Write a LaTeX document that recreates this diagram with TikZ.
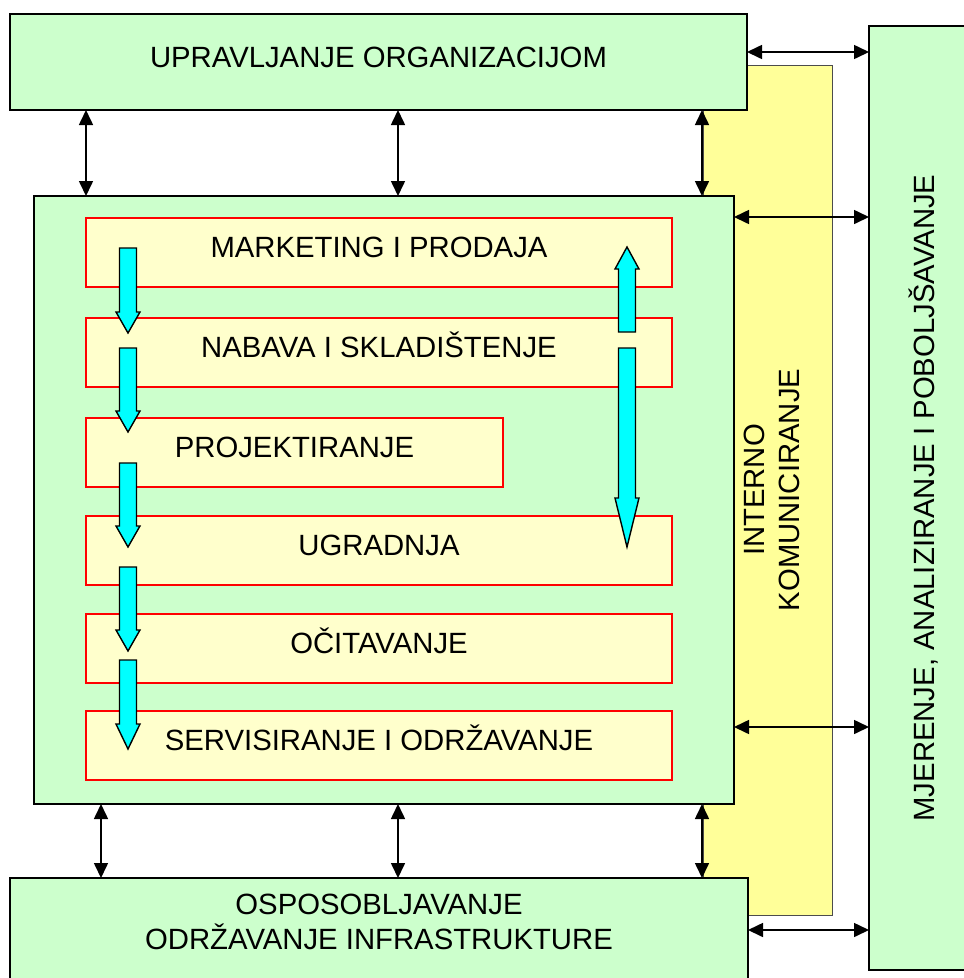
\documentclass[tikz,border=0pt]{standalone}
\usepackage{fontspec}
\setmainfont{Liberation Sans}
\usetikzlibrary{arrows.meta,positioning}
\definecolor{boxgreen}{HTML}{CCFFCC}
\definecolor{baryellow}{HTML}{FFFF99}
\definecolor{stageyellow}{HTML}{FFFFCC}
\definecolor{flowcyan}{HTML}{00FFFF}

\begin{document}
\begin{tikzpicture}[x=1pt,y=-1pt,
  every node/.style={font=\fontsize{29.3}{35}\selectfont, inner sep=0pt, outer sep=0pt},
  greenbox/.style={draw=black, line width=1.3pt, fill=boxgreen, anchor=north west},
  capline/.style={text height=21pt, text depth=11pt},
  stagebox/.style={draw=red, line width=1.8pt, fill=stageyellow, anchor=north west, minimum height=69pt, capline},
  link/.style={line width=1.6pt, {Triangle[length=15pt,width=14pt]}-{Triangle[length=15pt,width=14pt]}},
  flow/.style={draw=black, line width=1.4pt, fill=flowcyan}]
\useasboundingbox (0,0) rectangle (964,978);

% interno komuniciranje (behind the boxes)
\node[draw=black!70, line width=1pt, fill=baryellow, anchor=north west, minimum width=129pt, minimum height=850pt] (bar) at (703,65) {};

% main boxes
\node[greenbox, capline, minimum width=737pt, minimum height=96pt] (org) at (10,14) {UPRAVLJANJE ORGANIZACIJOM};
\node[greenbox, minimum width=700pt, minimum height=608pt] (proc) at (34,196) {};
\node[greenbox, minimum width=738pt, minimum height=107pt] (infra) at (10,878) {};
\node[align=center] (infratext) at (379,922) {OSPOSOBLJAVANJE\\ODRŽAVANJE INFRASTRUKTURE};
\node[greenbox, minimum width=122pt, minimum height=944pt] (mjer) at (869,26) {};
\node[rotate=90, text height=21pt, text depth=0pt] (mjertext) at (924,498) {MJERENJE, ANALIZIRANJE I POBOLJŠAVANJE};
\node[rotate=90, align=center] (bartext) at (772,490) {INTERNO\\KOMUNICIRANJE};

% process stages
\node[stagebox, minimum width=586pt] (mkt) at (86,218) {MARKETING I PRODAJA};
\node[stagebox, minimum width=586pt] (nab) at (86,318) {NABAVA I SKLADIŠTENJE};
\node[stagebox, minimum width=417pt] (proj) at (86,418) {PROJEKTIRANJE};
\node[stagebox, minimum width=586pt] (ugr) at (86,516) {UGRADNJA};
\node[stagebox, minimum width=586pt] (oci) at (86,614) {OČITAVANJE};
\node[stagebox, minimum width=586pt] (serv) at (86,711) {SERVISIRANJE I ODRŽAVANJE};

% links between the boxes
\foreach \x in {86,398,702}
  \draw[link] (org.south -| \x,0) -- (proc.north -| \x,0);
\foreach \x in {101,398,702}
  \draw[link] (proc.south -| \x,0) -- (infra.north -| \x,0);

\draw[link] ([yshift=10pt]org.east) -- ([yshift=10pt]org.east -| mjer.west);
\draw[link] ([yshift=-21pt]proc.north east) -- ([yshift=-21pt]proc.north east -| mjer.west);
\draw[link] ([yshift=77pt]proc.south east) -- ([yshift=77pt]proc.south east -| mjer.west);
\draw[link] ([yshift=-52pt]infra.north east) -- ([yshift=-52pt]infra.north east -| mjer.west);

% cyan flow arrows: x / tail / head base / tip
\foreach \x/\t/\h/\p in {128/248/312/333, 128/348/411/432, 128/463/526/547,
                         128/567/630/651, 128/660/724/749, 627/348/498/547, 627/332/269/247}
  \draw[flow] (\x-8.5,\t) -- (\x+8.5,\t) -- (\x+8.5,\h) -- (\x+12,\h) -- (\x,\p)
              -- (\x-12,\h) -- (\x-8.5,\h) -- cycle;

\end{tikzpicture}
\end{document}
